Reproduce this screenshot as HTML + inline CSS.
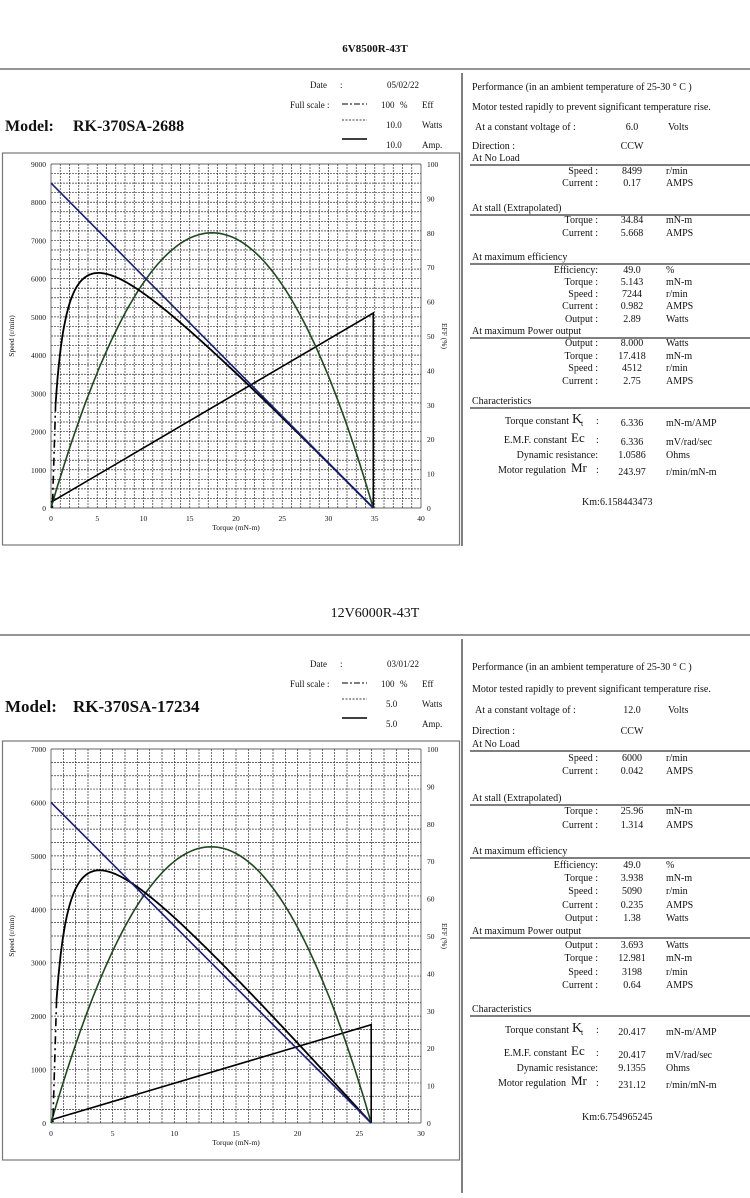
<!DOCTYPE html>
<html><head><meta charset="utf-8"><style>
html,body{margin:0;padding:0;background:#fff;}
svg text{font-family:"Liberation Serif",serif;fill:#111;}
</style></head><body>
<svg id="s" width="750" height="1193" viewBox="0 0 750 1193" xmlns="http://www.w3.org/2000/svg"></svg>
<script>
var o='';
function T(x,y,t,sz,opt){opt=opt||{};o+='<text x="'+x+'" y="'+y+'" font-size="'+sz+'"'+(opt.a?' text-anchor="'+opt.a+'"':'')+(opt.b?' font-weight="bold"':'')+(opt.r?' transform="rotate('+opt.r+' '+x+' '+y+')"':'')+'>'+t+'</text>';}
function L(x1,y1,x2,y2,c,w,d){o+='<line x1="'+x1+'" y1="'+y1+'" x2="'+x2+'" y2="'+y2+'" stroke="'+(c||'#000')+'" stroke-width="'+(w||1)+'"'+(d?' stroke-dasharray="'+d+'"':'')+'/>';}
function P(pts,c,w){o+='<polyline fill="none" stroke="'+c+'" stroke-width="'+w+'" points="'+pts.map(function(p){return p[0].toFixed(1)+','+p[1].toFixed(1)}).join(' ')+'"/>';}
var F=10;
function section(S){
  var dy=S.dy;
  T(375,S.titleY,S.title,S.titleSz,{a:'middle',b:S.titleB});
  L(0,S.lineY,750,S.lineY,'#555',1.2);
  L(462,S.lineY+4,462,S.vEnd,'#555',1.5);
  T(310,88+dy,'Date',9);T(340,88+dy,':',9);T(387,88+dy,S.date,9);
  T(290,108+dy,'Full scale :',9);
  L(342,104+dy,367,104+dy,'#000',1,'6 2 2 2');
  T(381,108+dy,'100',9);T(400,108+dy,'%',9);T(422,108+dy,'Eff',9);
  L(342,120+dy,367,120+dy,'#000',0.8,'2 1.5');
  T(386,128+dy,S.w,9);T(422,128+dy,'Watts',9);
  L(342,139+dy,367,139+dy,'#000',1.5);
  T(386,148+dy,S.w,9);T(422,148+dy,'Amp.',9);
  T(5,S.modelY,'Model:',S.msz,{b:1});T(73,S.modelY,S.model,S.msz,{b:1});
  o+='<rect x="2.5" y="'+S.boxT+'" width="457" height="'+(S.boxB-S.boxT)+'" fill="none" stroke="#777" stroke-width="1.2"/>';
  var x0=51,x1=421,yt=S.pt,yb=S.pb;
  var X=function(t){return x0+(x1-x0)*t/S.xmax;}, Y=function(v){return yb-(yb-yt)*v/S.ymax;};
  var nc=S.xmax, nr=S.rows;
  for(var i=0;i<=nc;i++){var xx=x0+(x1-x0)*i/nc;L(xx,yt,xx,yb,'#333',0.7,(i==0||i==nc)?'':'2 1');}
  for(var j=0;j<=nr;j++){var yy=yt+(yb-yt)*j/nr;L(x0,yy,x1,yy,'#333',0.7,(j==0||j==nr)?'':'2 1');}
  for(var v=0;v<=S.ymax;v+=1000)T(46,Y(v)+3,v,7.5,{a:'end'});
  for(var e=0;e<=100;e+=10)T(427,yb-(yb-yt)*e/100+3,e,7.5);
  for(var t=0;t<=S.xmax;t+=5)T(X(t),yb+13,t,7.5,{a:'middle'});
  T(236,yb+22,'Torque (mN-m)',7.5,{a:'middle'});
  T(14,(yt+yb)/2,'Speed (r/min)',7.5,{a:'middle',r:-90});
  T(442,(yt+yb)/2,'EFF (%)',7.5,{a:'middle',r:90});
  var Ts=S.stall;
  var sp=function(t){return S.n0*(1-t/Ts);};
  var cur=function(t){return S.i0+(S.is-S.i0)*t/Ts;};
  P([[X(0),Y(S.i0/S.w*S.ymax)],[X(Ts),Y(S.is/S.w*S.ymax)],[X(Ts),Y(0)]],'#000',1.6);
  var pp=[];for(var k=0;k<=100;k++){var t=Ts*k/100;var p=4*S.pmax*(t/Ts)*(1-t/Ts);pp.push([X(t),Y(p/S.w*S.ymax)]);}
  P(pp,'#1e4a1e',1.6);
  var eff=function(t){return t*sp(t)*0.10472/1000/(S.V*cur(t));};
  var emax=0;for(var k=1;k<1000;k++){var t=Ts*k/1000;emax=Math.max(emax,eff(t));}
  var ep=[];for(var k=0;k<=300;k++){var t=S.es+(Ts-S.es)*k/300;ep.push([X(t),Y(eff(t)/emax*S.epk)]);}
  P(ep,'#000',1.8);
  L(X(S.es),Y(eff(S.es)/emax*S.epk),X(0.15),Y(0),'#000',1.6,'8 4 2 4');
  P([[X(0),Y(S.n0)],[X(Ts),Y(0)]],'#1a1a80',1.6);
  var R=S.R;
  T(472,R.perf,'Performance (in an ambient temperature of 25-30 ° C )',F);
  T(472,R.mot,'Motor tested rapidly to prevent significant temperature rise.',F);
  T(475,R.cv,'At a constant voltage of :',F);T(632,R.cv,S.V.toFixed(1),F,{a:'middle'});T(668,R.cv,'Volts',F);
  T(472,R.dir,'Direction :',F);T(632,R.dir,'CCW',F,{a:'middle'});
  var row=function(y,l,v,u){T(598,y,l,F,{a:'end'});T(632,y,v,F,{a:'middle'});T(666,y,u,F);};
  var hdr=function(y,t){T(472,y,t,F);L(470,y+4,750,y+4,'#333',1.2);};
  hdr(R.nl,'At No Load');
  R.nlr.forEach(function(r){row(r[0],r[1],r[2],r[3]);});
  hdr(R.st,'At stall (Extrapolated)');
  R.str.forEach(function(r){row(r[0],r[1],r[2],r[3]);});
  hdr(R.me,'At maximum efficiency');
  R.mer.forEach(function(r){row(r[0],r[1],r[2],r[3]);});
  hdr(R.mp,'At maximum Power output');
  R.mpr.forEach(function(r){row(r[0],r[1],r[2],r[3]);});
  hdr(R.ch,'Characteristics');
  var c=R.chr;
  T(569,c[0],'Torque constant',F,{a:'end'});T(572,c[0]-1,'K',14);T(581,c[0]+2,'t',8);T(596,c[0],':',F);T(632,c[0]+2,c[4],F,{a:'middle'});T(666,c[0]+2,'mN-m/AMP',F);
  T(567,c[1],'E.M.F. constant',F,{a:'end'});T(571,c[1]-1,'Ec',13);T(596,c[1],':',F);T(632,c[1]+2,c[5],F,{a:'middle'});T(666,c[1]+2,'mV/rad/sec',F);
  T(598,c[2],'Dynamic resistance:',F,{a:'end'});T(632,c[2],c[6],F,{a:'middle'});T(666,c[2],'Ohms',F);
  T(566,c[3],'Motor regulation',F,{a:'end'});T(571,c[3]-1,'Mr',13);T(596,c[3],':',F);T(632,c[3]+2,c[7],F,{a:'middle'});T(666,c[3]+2,'r/min/mN-m',F);
  T(582,R.km,'Km:',F);T(600,R.km,S.km,F);
}
section({dy:0,title:'6V8500R-43T',titleY:52,titleSz:11,titleB:1,lineY:69,vEnd:546,date:'05/02/22',w:'10.0',model:'RK-370SA-2688',modelY:131,msz:16,
 boxT:153,boxB:545,pt:164,pb:508,xmax:40,ymax:9000,rows:36,stall:34.84,n0:8499,i0:0.17,is:5.668,V:6,pmax:8.0,epk:6150,es:0.5,km:'6.158443473',
 R:{perf:90,mot:110,cv:130,dir:149,nl:161,nlr:[[174,'Speed :','8499','r/min'],[186,'Current :','0.17','AMPS']],
 st:211,str:[[223,'Torque :','34.84','mN-m'],[236,'Current :','5.668','AMPS']],
 me:260,mer:[[273,'Efficiency:','49.0','%'],[285,'Torque :','5.143','mN-m'],[297,'Speed :','7244','r/min'],[309,'Current :','0.982','AMPS'],[322,'Output :','2.89','Watts']],
 mp:334,mpr:[[346,'Output :','8.000','Watts'],[359,'Torque :','17.418','mN-m'],[371,'Speed :','4512','r/min'],[384,'Current :','2.75','AMPS']],
 ch:404,chr:[424,443,458,473,'6.336','6.336','1.0586','243.97'],km:505}});
section({dy:579,title:'12V6000R-43T',titleY:617,titleSz:14,titleB:0,lineY:635,vEnd:1193,date:'03/01/22',w:'5.0',model:'RK-370SA-17234',modelY:712,msz:17,
 boxT:741,boxB:1160,pt:749,pb:1123,xmax:30,ymax:7000,rows:28,stall:25.96,n0:6000,i0:0.042,is:1.314,V:12,pmax:3.693,epk:4730,es:0.45,km:'6.754965245',
 R:{perf:670,mot:692,cv:713,dir:734,nl:747,nlr:[[761,'Speed :','6000','r/min'],[774,'Current :','0.042','AMPS']],
 st:801,str:[[814,'Torque :','25.96','mN-m'],[828,'Current :','1.314','AMPS']],
 me:854,mer:[[868,'Efficiency:','49.0','%'],[881,'Torque :','3.938','mN-m'],[894,'Speed :','5090','r/min'],[908,'Current :','0.235','AMPS'],[921,'Output :','1.38','Watts']],
 mp:934,mpr:[[948,'Output :','3.693','Watts'],[961,'Torque :','12.981','mN-m'],[975,'Speed :','3198','r/min'],[988,'Current :','0.64','AMPS']],
 ch:1012,chr:[1033,1056,1071,1086,'20.417','20.417','9.1355','231.12'],km:1120}});
document.getElementById('s').innerHTML=o;
</script>
</body></html>
